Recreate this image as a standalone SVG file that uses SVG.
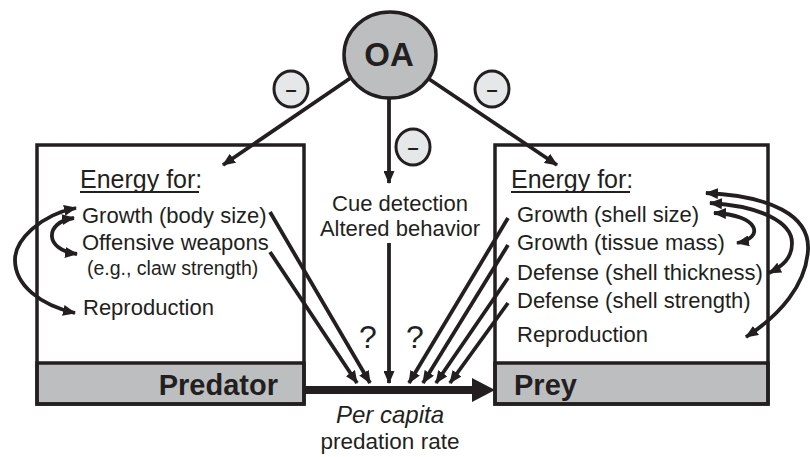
<svg xmlns="http://www.w3.org/2000/svg" width="810" height="457" viewBox="0 0 810 457">
<defs>
<style>
.t{font-family:"Liberation Sans",Arial,sans-serif;fill:#231f20}
.b{font-family:"Liberation Sans",Arial,sans-serif;fill:#231f20;font-weight:bold}
.box{fill:none;stroke:#231f20;stroke-width:3.5}
.bar{fill:#bcbec0;stroke:#231f20;stroke-width:3.5}
.c{fill:none;stroke:#231f20;stroke-width:3.8}
.m{fill:#e6e7e8;stroke:#231f20;stroke-width:3}
.u{stroke:#231f20;stroke-width:2.2}
</style>
<marker id="ah" markerUnits="userSpaceOnUse" markerWidth="13" markerHeight="11" refX="12" refY="5.5" orient="auto-start-reverse" viewBox="0 0 13 11">
<path d="M0,0 L13,5.5 L0,11 z" fill="#231f20"/>
</marker>
</defs>

<g id="predator">
<rect class="bar" x="37" y="363" width="267" height="41"/>
<rect class="box" x="37" y="145" width="267" height="259"/>
<text class="b" x="278" y="395" font-size="29" text-anchor="end">Predator</text>
<text class="t" x="80" y="188" font-size="25">Energy for:</text>
<line class="u" x1="80" y1="192" x2="199" y2="192"/>
<text class="t" x="82" y="223" font-size="22">Growth (body size)</text>
<text class="t" x="82" y="250" font-size="22">Offensive weapons</text>
<text class="t" x="87" y="275" font-size="19.5">(e.g., claw strength)</text>
<text class="t" x="83" y="315" font-size="22">Reproduction</text>
</g>

<g id="prey">
<rect class="bar" x="495" y="363" width="273" height="41"/>
<rect class="box" x="495" y="145" width="273" height="259"/>
<text class="b" x="514" y="395" font-size="29">Prey</text>
<text class="t" x="511" y="188" font-size="25">Energy for:</text>
<line class="u" x1="511" y1="192" x2="630" y2="192"/>
<text class="t" x="517" y="222" font-size="22">Growth (shell size)</text>
<text class="t" x="517" y="250" font-size="22">Growth (tissue mass)</text>
<text class="t" x="517" y="280" font-size="22">Defense (shell thickness)</text>
<text class="t" x="517" y="308" font-size="22">Defense (shell strength)</text>
<text class="t" x="517" y="342" font-size="22">Reproduction</text>
</g>

<g id="cue">
<text class="t" x="400" y="211" font-size="22" text-anchor="middle">Cue detection</text>
<text class="t" x="400" y="236" font-size="22" text-anchor="middle">Altered behavior</text>
</g>

<g id="rate">
<text class="t" x="390" y="423" font-size="24" text-anchor="middle" font-style="italic">Per capita</text>
<text class="t" x="390" y="449" font-size="22.5" text-anchor="middle">predation rate</text>
</g>

<g id="connectors">
<line class="c" x1="352" y1="77" x2="223" y2="165" marker-end="url(#ah)"/>
<line class="c" x1="426" y1="77" x2="557" y2="165" marker-end="url(#ah)"/>
<line class="c" x1="389" y1="96" x2="389" y2="183" marker-end="url(#ah)"/>
<line class="c" x1="270" y1="212" x2="370" y2="383" marker-end="url(#ah)"/>
<line class="c" x1="270" y1="252" x2="357" y2="383" marker-end="url(#ah)"/>
<line class="c" x1="389" y1="243" x2="389" y2="383" marker-end="url(#ah)"/>
<line class="c" x1="508" y1="218" x2="409" y2="383" marker-end="url(#ah)"/>
<line class="c" x1="508" y1="245" x2="423" y2="383" marker-end="url(#ah)"/>
<line class="c" x1="508" y1="278" x2="436" y2="383" marker-end="url(#ah)"/>
<line class="c" x1="508" y1="303" x2="450" y2="383" marker-end="url(#ah)"/>
<line x1="304" y1="390" x2="476" y2="390" stroke="#231f20" stroke-width="8"/>
<polygon points="472,378 495,390 472,402" fill="#231f20"/>
<path class="c" d="M76,208 C40,215 15,240 15,260 C15,285 40,305 75,313" marker-start="url(#ah)" marker-end="url(#ah)"/>
<path class="c" d="M74,218 C44,222 44,250 77,254" marker-start="url(#ah)" marker-end="url(#ah)"/>
<path class="c" d="M706,193 C770,196 810,215 808,250 C806,285 780,315 746,337" marker-start="url(#ah)" marker-end="url(#ah)"/>
<path class="c" d="M710,203 C760,206 792,222 792,243 C792,258 783,266 769,273" marker-start="url(#ah)" marker-end="url(#ah)"/>
<path class="c" d="M714,213 C760,215 765,238 737,243" marker-start="url(#ah)" marker-end="url(#ah)"/>
<text class="t" x="368" y="348" font-size="32" text-anchor="middle">?</text>
<text class="t" x="415" y="348" font-size="32" text-anchor="middle">?</text>
</g>

<g id="oa">
<ellipse cx="390" cy="55" rx="46" ry="43" fill="#bcbec0" stroke="#231f20" stroke-width="3.5"/>
<text class="b" x="389" y="66" font-size="33" text-anchor="middle">OA</text>
</g>

<g id="minus-left">
<ellipse class="m" cx="291" cy="89" rx="17" ry="18"/>
<text class="b" x="291" y="96" font-size="20" text-anchor="middle">–</text>
</g>
<g id="minus-right">
<ellipse class="m" cx="492" cy="89" rx="17" ry="18"/>
<text class="b" x="492" y="96" font-size="20" text-anchor="middle">–</text>
</g>
<g id="minus-center">
<ellipse class="m" cx="413" cy="147" rx="17" ry="18"/>
<text class="b" x="413" y="154" font-size="20" text-anchor="middle">–</text>
</g>
</svg>
